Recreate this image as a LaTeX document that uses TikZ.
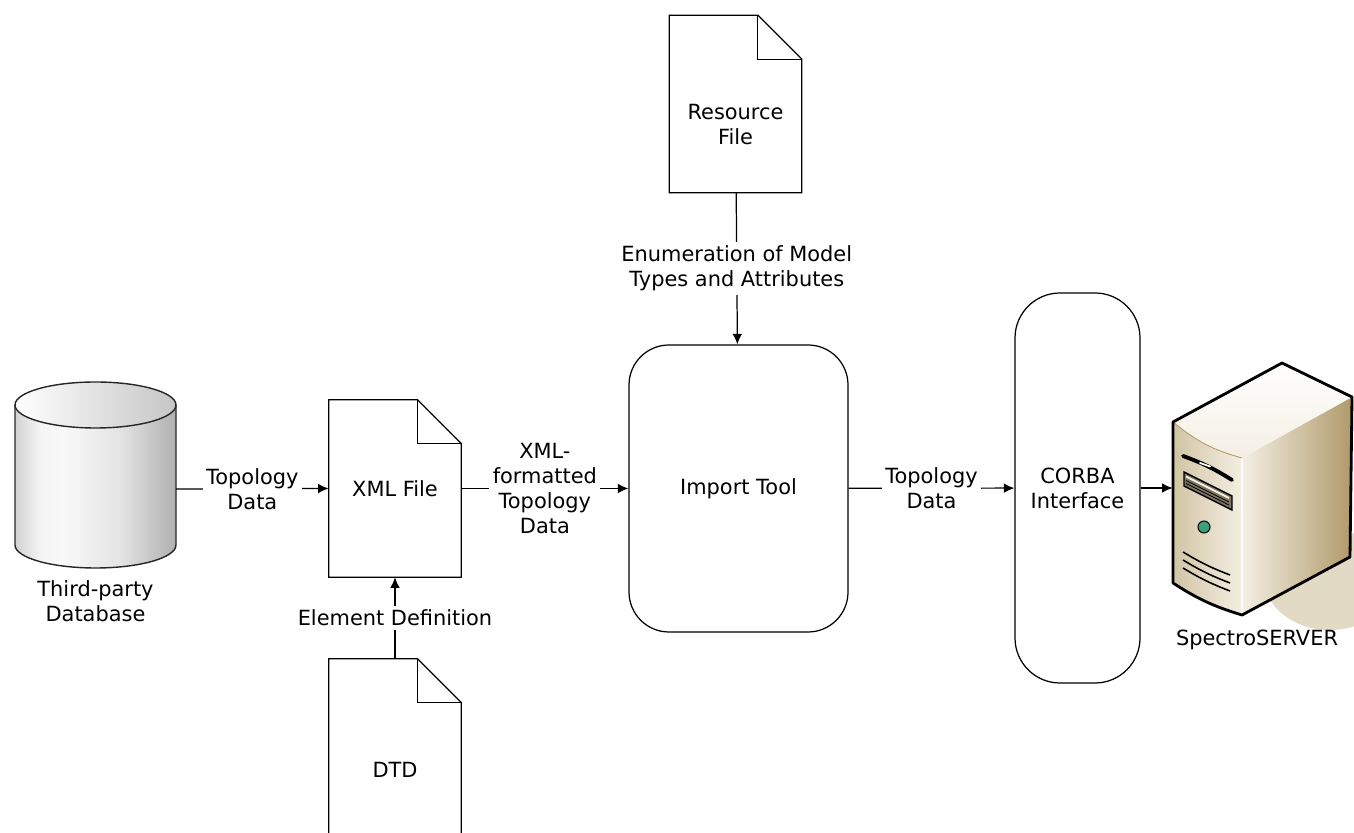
\documentclass[tikz,border=0pt]{standalone}
\usepackage{fontspec}
\setmainfont{DejaVu Sans}
\usetikzlibrary{arrows.meta,positioning,calc}

\definecolor{srvlight}{HTML}{F4EFE3}
\definecolor{srvmid}{HTML}{D2C4A4}
\definecolor{srvdark}{HTML}{B09A6A}
\definecolor{srvshade}{HTML}{E3DAC6}
\definecolor{ledgreen}{HTML}{3AA07A}

% grey barrel of the database
\pgfdeclarehorizontalshading{dbbody}{100bp}{color(0bp)=(gray!35); color(25bp)=(gray!35); color(33bp)=(gray!8); color(40bp)=(gray!5); color(58bp)=(gray!22); color(75bp)=(gray!62); color(100bp)=(gray!62)}

\tikzset{
  flow/.style={-{Latex[length=6pt,width=5.5pt]}, line width=0.7pt},
  lbl/.style={fill=white, align=center, inner sep=2pt},
  docfile/.style={minimum width=2.64cm, minimum height=3.54cm, align=center, inner sep=0pt},
  toolbox/.style={draw, line width=0.7pt, align=center},
}

% page with a folded corner round a node
\newcommand{\docoutline}[1]{%
  \draw[line width=0.7pt, line join=round] (#1.north west) -- ([xshift=-0.88cm]#1.north east)
    -- ([yshift=-0.88cm]#1.north east) -- (#1.south east) -- (#1.south west) -- cycle;
  \draw[line width=0.7pt] ([xshift=-0.88cm]#1.north east) |- ([yshift=-0.88cm]#1.north east);}

\begin{document}
\begin{tikzpicture}[font=\fontsize{11.9}{14.2}\selectfont]
  \useasboundingbox (0,0) rectangle (27.08,16.66);

  % Database
  \shade[shading=dbbody] (0.30,8.56) -- (0.30,5.76) arc[start angle=180, end angle=360, x radius=1.61, y radius=0.46]
    -- (3.52,8.56) arc[start angle=0, end angle=-180, x radius=1.61, y radius=0.46] -- cycle;
  \draw[line width=0.8pt, black!85] (0.30,8.56) -- (0.30,5.76) arc[start angle=180, end angle=360, x radius=1.61, y radius=0.46] -- (3.52,8.56);
  \draw[line width=0.8pt, black!85, left color=white, right color=gray!45] (1.91,8.56) ellipse (1.61 and 0.46);
  \coordinate (dbr) at (3.52,6.88);
  \node[align=center] (dbname) at (1.91,4.64) {Third-party\\Database};

  % Files
  \node[docfile] (xml) at (7.90,6.89) {XML File};
  \docoutline{xml}
  \node[docfile, minimum height=4.44cm] (dtd) at (7.90,1.26) {DTD};
  \docoutline{dtd}
  \node[docfile] (res) at (14.71,14.58) {};
  \docoutline{res}
  \node[align=center] (resname) at ([yshift=-4.1mm]res.center) {Resource\\File};

  % Import tool and CORBA
  \node[toolbox, rounded corners=0.8cm, minimum width=4.38cm, minimum height=5.74cm] (imp) at (14.77,6.89) {Import Tool};
  \node[toolbox, rounded corners=0.9cm, minimum width=2.50cm, minimum height=7.80cm] (corba) at (21.55,6.90) {CORBA\\Interface};

  % Server
  \node[minimum width=3.60cm, minimum height=5.04cm] (srv) at (25.26,6.88) {};
  \coordinate (sl) at (23.46,8.22);
  \coordinate (st) at (25.64,9.40);
  \coordinate (sr) at (27.04,8.72);
  \coordinate (sf) at (24.84,7.50);
  \coordinate (sbr) at (27.00,5.52);
  \coordinate (sbf) at (24.84,4.36);
  \coordinate (sbl) at (23.46,5.00);
  \fill[srvshade] (26.60,5.06) ellipse (1.3 and 1.0);
  \shade[left color=srvlight, right color=srvdark] (sf) -- (sr) -- (sbr) -- (sbf) -- cycle;
  \shade[left color=srvmid, right color=srvlight] (sl) to[bend right=12] (sf) -- (sbf) to[bend left=8] (sbl) -- cycle;
  \shade[top color=white, bottom color=srvlight] (sl) -- (st) -- (sr) -- (sf) to[bend left=12] (sl) -- cycle;
  \draw[white, line width=1pt] (sf) -- (sbf);
  \draw[srvdark, line width=0.5pt] (sl) to[bend right=12] (sf);
  \draw[line width=1.6pt, line join=round] (sl) -- (st) -- (sr) -- (sbr) -- (sbf) to[bend left=8] (sbl) -- cycle;
  % front panel
  \draw[line width=2.2pt, line cap=round] (23.66,7.54) to[bend left=6] (24.64,7.06);
  \draw[white, line width=1pt, line cap=round] (24.00,7.40) -- (24.20,7.33);
  \filldraw[fill=srvmid!60!black, draw=black, line width=0.8pt] (23.68,7.22) -- (24.64,6.74) -- (24.64,6.46) -- (23.68,6.94) -- cycle;
  \draw[srvlight, line width=1.1pt] (23.72,7.13) -- (24.58,6.70);
  \foreach \dy in {0.08,0.14}
    \draw[black, line width=0.4pt] (23.72,7.13-\dy) -- (24.58,6.70-\dy);
  \filldraw[fill=ledgreen, draw=black, line width=0.6pt] (24.08,6.12) circle (0.12);
  \foreach \dy in {0,0.16,0.32}
    \draw[line width=0.9pt] (23.66,5.62-\dy) to[bend right=5] (24.60,5.16-\dy);
  \node (srvname) at (25.14,3.86) {SpectroSERVER};

  % Connectors
  \draw[flow] (dbr) -- node[lbl] {Topology\\Data} (xml.west);
  \draw[flow] (dtd) -- node[lbl] {Element Definition} (xml);
  \draw[flow] (xml) -- node[lbl] {XML-\\formatted\\Topology\\Data} (imp);
  \draw[flow] (res) -- node[lbl] {Enumeration of Model\\Types and Attributes} (imp);
  \draw[flow] (imp) -- node[lbl] {Topology\\Data} (corba);
  \draw[flow] (corba) -- (corba.east -| srv.west);
\end{tikzpicture}
\end{document}
